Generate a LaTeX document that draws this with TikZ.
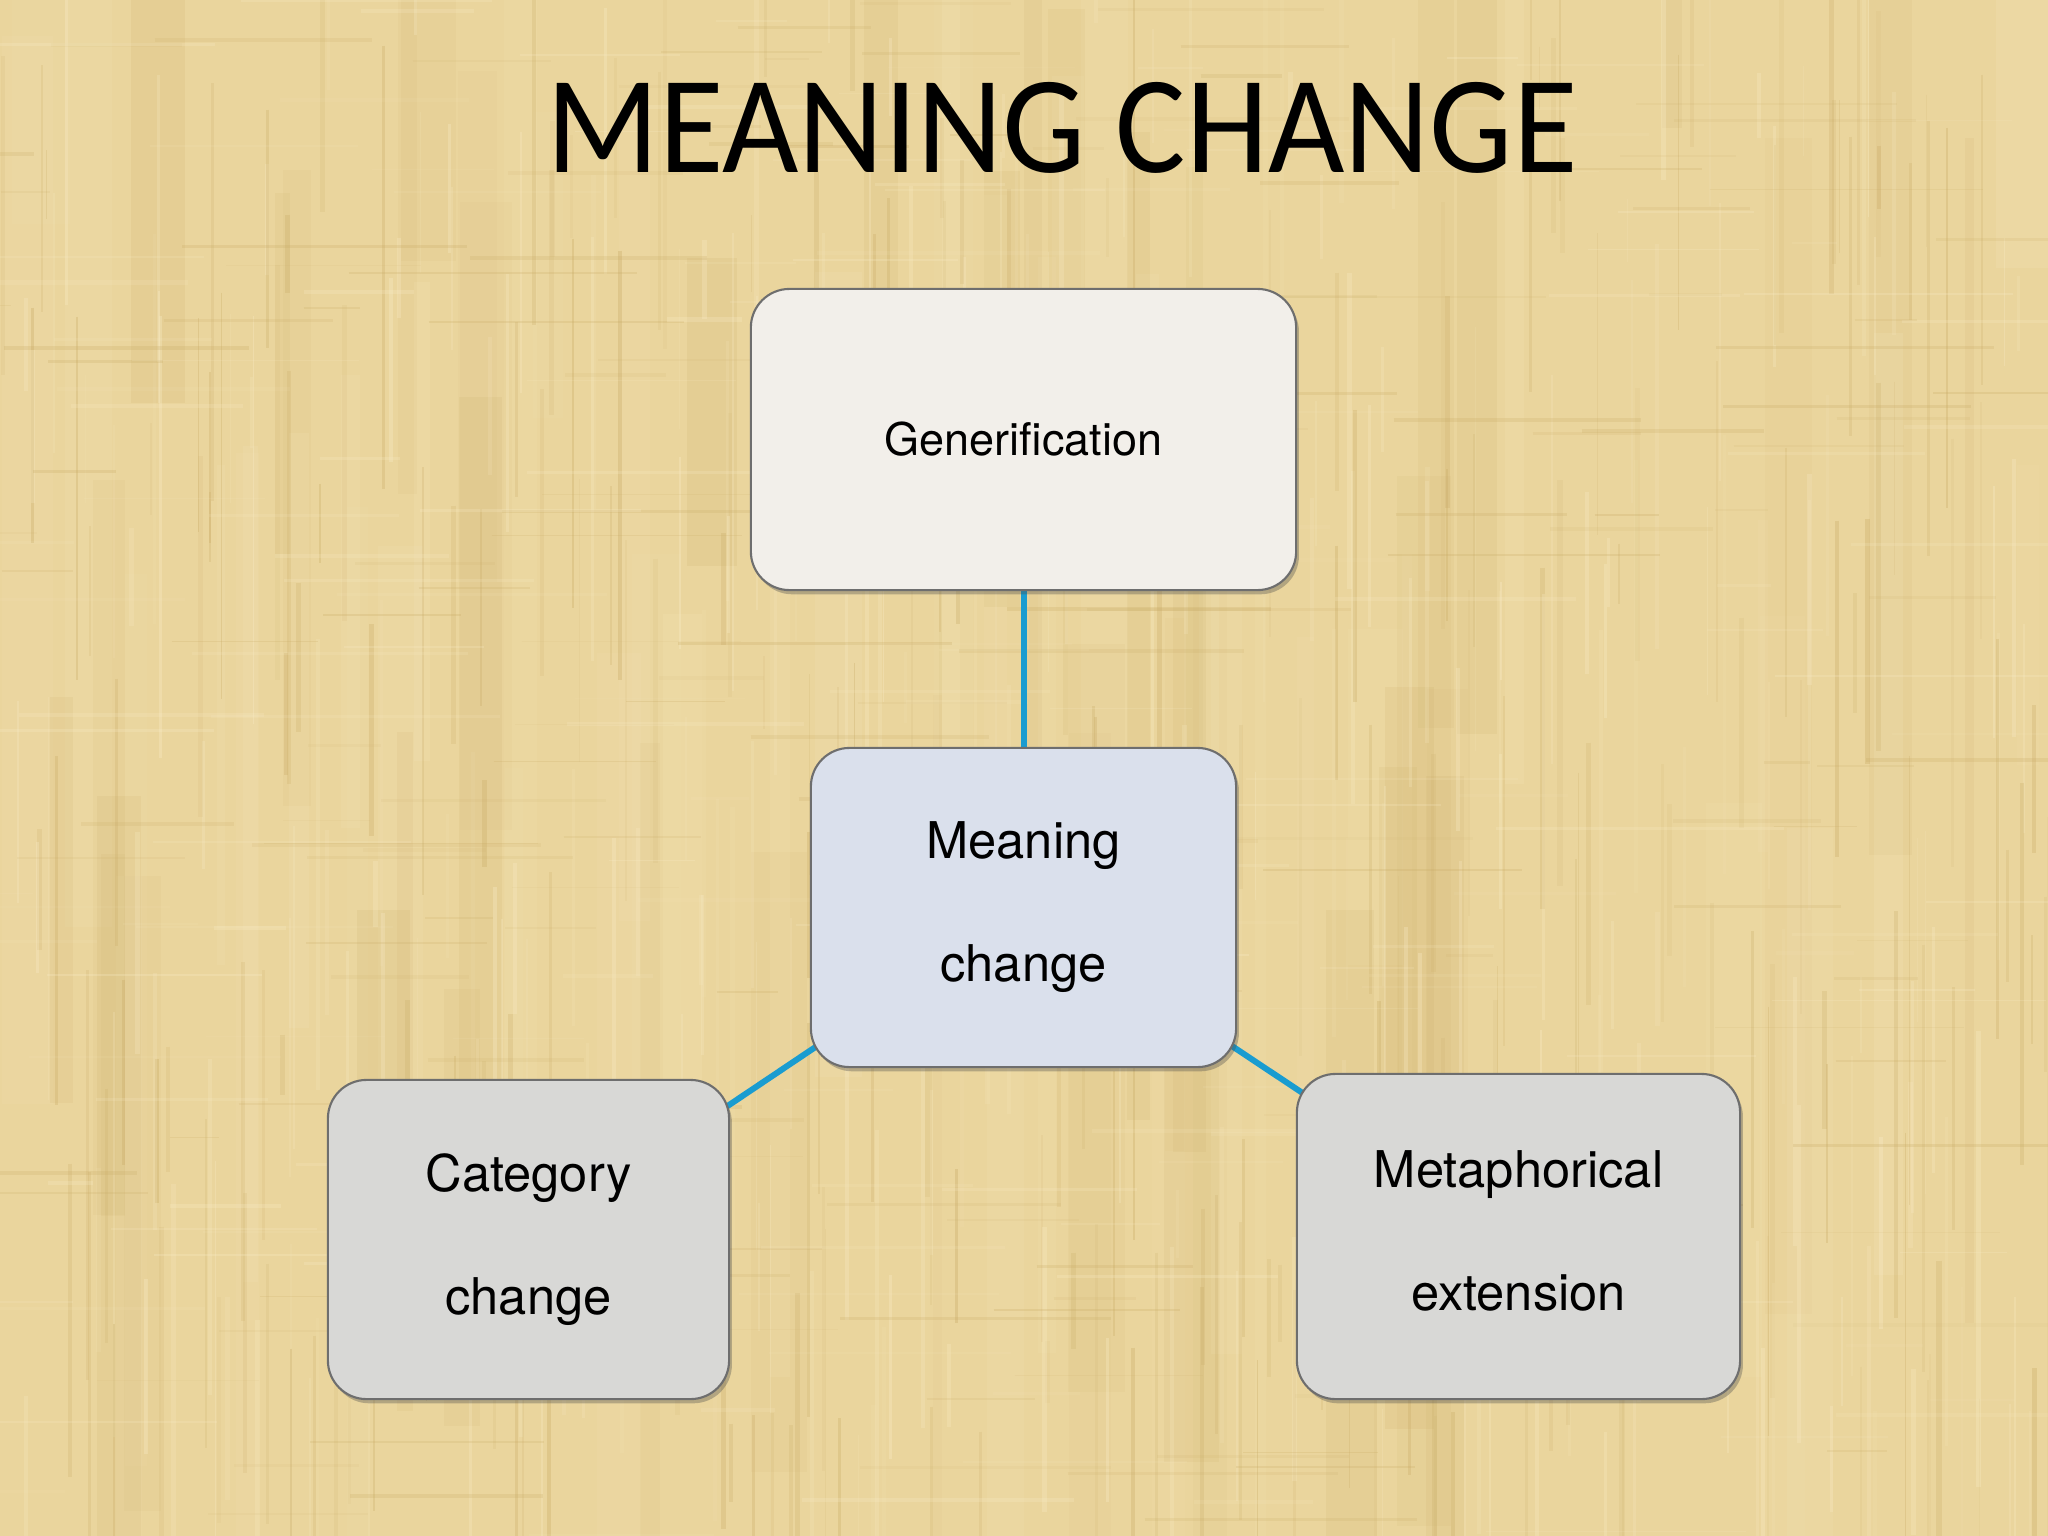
\documentclass[tikz,border=0pt]{standalone}
\usepackage{fontspec}
\usepackage{graphicx}
\setmainfont{TeX Gyre Heros}
\newfontfamily\titlefont{Carlito}
\usetikzlibrary{shadows}
\pgfdeclarelayer{bg}
\pgfdeclarelayer{lines}
\pgfsetlayers{bg,lines,main}
\definecolor{basetan}{RGB}{234,213,157}
\definecolor{lighttan}{RGB}{250,237,200}
\definecolor{darktan}{RGB}{200,170,100}
\definecolor{genfill}{RGB}{242,239,234}
\definecolor{meanfill}{RGB}{218,224,236}
\definecolor{grayfill}{RGB}{216,216,214}
\definecolor{boxline}{RGB}{110,110,110}
\definecolor{linkblue}{RGB}{26,156,208}
\tikzset{
  box/.style={draw=boxline, line width=0.6pt, rounded corners=11pt,
    inner sep=0pt, align=center,
    drop shadow={shadow xshift=0.8pt, shadow yshift=-1.2pt, opacity=0.35, fill=black!70},
    font=\fontsize{14.4}{35}\selectfont},
  link/.style={draw=linkblue, line width=1.7pt}
}
\begin{document}
\begin{tikzpicture}[x=0.01cm, y=-0.01cm]
\useasboundingbox (0,0) rectangle (2048,1536);
\begin{pgfonlayer}{bg}
  \fill[basetan] (0,0) rectangle (2048,1536);
  \begin{scope}
    \clip (0,0) rectangle (2048,1536);
    \pgfmathsetseed{11}
    % broad vertical bands
    \foreach \i in {1,...,90} {
      \pgfmathsetmacro\xx{rnd*2048}
      \pgfmathsetmacro\ww{8+rnd*50}
      \pgfmathsetmacro\op{0.05+rnd*0.10}
      \pgfmathsetmacro\yy{rnd*1200-200}
      \pgfmathsetmacro\ll{300+rnd*900}
      \ifodd\i
        \fill[lighttan, opacity=\op] (\xx,\yy) rectangle ++(\ww,\ll);
      \else
        \fill[darktan, opacity=\op] (\xx,\yy) rectangle ++(\ww,\ll);
      \fi
    }
    % thin vertical threads
    \foreach \i in {1,...,500} {
      \pgfmathsetmacro\xx{rnd*2048}
      \pgfmathsetmacro\yy{rnd*1536-100}
      \pgfmathsetmacro\ll{60+rnd*400}
      \pgfmathsetmacro\ww{0.3+rnd*1.2}
      \pgfmathsetmacro\op{0.08+rnd*0.25}
      \ifodd\i
        \draw[line width=\ww pt, lighttan, opacity=\op] (\xx,\yy) -- ++(0,\ll);
      \else
        \draw[line width=\ww pt, darktan, opacity=\op] (\xx,\yy) -- ++(0,\ll);
      \fi
    }
    % thin horizontal threads
    \foreach \i in {1,...,350} {
      \pgfmathsetmacro\xx{rnd*2048-100}
      \pgfmathsetmacro\yy{rnd*1536}
      \pgfmathsetmacro\ll{40+rnd*250}
      \pgfmathsetmacro\ww{0.3+rnd*0.9}
      \pgfmathsetmacro\op{0.06+rnd*0.2}
      \ifodd\i
        \draw[line width=\ww pt, lighttan, opacity=\op] (\xx,\yy) -- ++(\ll,0);
      \else
        \draw[line width=\ww pt, darktan, opacity=\op] (\xx,\yy) -- ++(\ll,0);
      \fi
    }
  \end{scope}
\end{pgfonlayer}

\node[anchor=base, font=\titlefont\fontsize{39.5}{41}\selectfont] (title) at (1062,172) {\scalebox{0.95}[1]{MEANING CHANGE}};

\node[box, fill=genfill, minimum width=5.45cm, minimum height=3.01cm,
  font=\fontsize{12.8}{15}\selectfont] (gen) at (1023.5,439.5) {Generification};
\node[box, fill=meanfill, minimum width=4.25cm, minimum height=3.19cm] (mean) at (1023.5,907.5) {Meaning\\change};
\node[box, fill=grayfill, minimum width=4.01cm, minimum height=3.19cm] (cat) at (528.5,1239.5) {Category\\change};
\node[box, fill=grayfill, minimum width=4.43cm, minimum height=3.25cm] (met) at (1518.5,1236.5) {Metaphorical\\extension\vphantom{g}};

\begin{pgfonlayer}{lines}
  \draw[link] (gen.center) -- (mean.center);
  \draw[link] (mean.center) -- (cat.center);
  \draw[link] (mean.center) -- (met.center);
\end{pgfonlayer}
\end{tikzpicture}
\end{document}
